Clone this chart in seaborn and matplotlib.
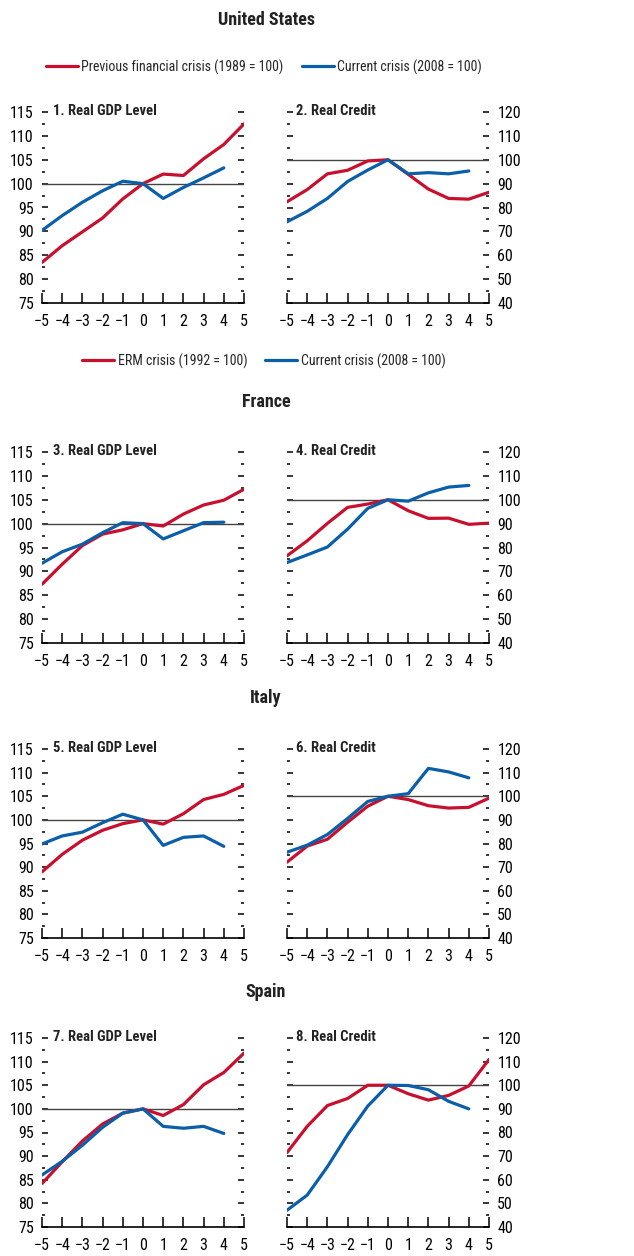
import numpy as np
import pandas as pd
import matplotlib
matplotlib.use("Agg")
import matplotlib.pyplot as plt
from matplotlib.ticker import MultipleLocator
from matplotlib.lines import Line2D
from matplotlib import font_manager
import seaborn as sns

# ---- data ----
years = list(range(-5, 6))
years_cur = list(range(-5, 5))

us_gdp_prev = [83.5, 87.0, 89.9, 92.8, 96.8, 100.0, 102.0, 101.7, 105.2, 108.2, 112.5]
us_gdp_cur = [90.2, 93.3, 96.1, 98.5, 100.5, 100.0, 96.9, 99.2, 101.2, 103.3]
us_cred_prev = [82.4, 87.5, 94.1, 95.6, 99.5, 100.0, 93.9, 87.7, 83.8, 83.5, 86.4]
us_cred_cur = [74.0, 78.4, 83.8, 90.9, 95.7, 100.0, 94.1, 94.6, 94.1, 95.3]

fr_gdp_erm = [87.3, 91.5, 95.4, 97.8, 98.7, 100.0, 99.5, 102.0, 103.9, 104.9, 107.2]
fr_gdp_cur = [91.7, 94.1, 95.7, 98.1, 100.2, 100.0, 96.8, 98.5, 100.2, 100.3]
fr_cred_erm = [76.5, 82.8, 90.1, 96.8, 98.2, 100.0, 95.4, 92.2, 92.3, 89.7, 90.2]
fr_cred_cur = [73.7, 76.9, 80.2, 87.7, 96.4, 100.0, 99.4, 102.9, 105.3, 106.0]

it_gdp_erm = [89.0, 92.7, 95.7, 97.8, 99.2, 100.0, 99.1, 101.3, 104.3, 105.4, 107.3]
it_gdp_cur = [94.9, 96.6, 97.4, 99.4, 101.2, 100.0, 94.6, 96.3, 96.6, 94.4]
it_cred_erm = [72.1, 78.9, 81.8, 89.0, 95.8, 100.0, 98.6, 96.0, 95.0, 95.3, 99.2]
it_cred_cur = [76.3, 79.3, 83.8, 90.6, 97.8, 100.0, 101.1, 111.8, 110.3, 107.8]

es_gdp_erm = [84.2, 88.8, 93.2, 96.8, 99.1, 100.0, 98.6, 100.9, 105.1, 107.7, 111.8]
es_gdp_cur = [86.0, 88.9, 92.3, 96.1, 99.1, 100.0, 96.3, 95.9, 96.3, 94.8]
es_cred_erm = [71.5, 82.6, 91.4, 94.4, 100.0, 100.0, 96.4, 93.7, 95.7, 99.7, 110.9]
es_cred_cur = [47.1, 53.5, 65.5, 79.1, 91.2, 100.0, 99.9, 98.1, 93.2, 90.0]

countries = ["United States", "France", "Italy", "Spain"]
panel_titles = ["1. Real GDP Level", "2. Real Credit", "3. Real GDP Level", "4. Real Credit",
                "5. Real GDP Level", "6. Real Credit", "7. Real GDP Level", "8. Real Credit"]
legend_us = ["Previous financial crisis (1989 = 100)", "Current crisis (2008 = 100)"]
legend_erm = ["ERM crisis (1992 = 100)", "Current crisis (2008 = 100)"]

RED = "#C8102E"
BLUE = "#0A5FA8"

sns.set_theme(style="white")
# pick the narrowest installed family
installed = {f.name for f in font_manager.fontManager.ttflist}
narrow = [f for f in ["Roboto Condensed", "DejaVu Sans Condensed", "Liberation Sans Narrow",
                      "Roboto", "DejaVu Sans"] if f in installed]
plt.rcParams['font.family'] = narrow
plt.rcParams['axes.unicode_minus'] = True

fig = plt.figure(figsize=(6.34, 12.56), dpi=100)
W, H = 634.0, 1256.0

def frame(prev, cur):
    a = pd.DataFrame({"year": years, "value": prev, "series": "prev"})
    b = pd.DataFrame({"year": years_cur, "value": cur, "series": "cur"})
    return pd.concat([a, b], ignore_index=True)

rows = [
    (us_gdp_prev, us_gdp_cur, us_cred_prev, us_cred_cur, 112, 303),
    (fr_gdp_erm, fr_gdp_cur, fr_cred_erm, fr_cred_cur, 452, 643),
    (it_gdp_erm, it_gdp_cur, it_cred_erm, it_cred_cur, 749, 938),
    (es_gdp_erm, es_gdp_cur, es_cred_erm, es_cred_cur, 1038, 1227),
]
title_y = [20, 402, 698, 992]

for i, (g1, g2, c1, c2, top, bot) in enumerate(rows):
    for j, (p, c) in enumerate([(g1, g2), (c1, c2)]):
        left = 42 if j == 0 else 287
        ax = fig.add_axes([left / W, 1 - bot / H, 202 / W, (bot - top) / H])
        df = frame(p, c)
        sns.lineplot(data=df, x="year", y="value", hue="series",
                     palette={"prev": RED, "cur": BLUE}, hue_order=["prev", "cur"],
                     linewidth=2.3, legend=False, ax=ax, zorder=3)
        ax.axhline(100, color="#444444", lw=1.0, zorder=2)
        ax.set_xlim(-5, 5)
        if j == 0:
            ax.set_ylim(75, 115)
            ax.yaxis.set_major_locator(MultipleLocator(5))
            ax.yaxis.set_minor_locator(MultipleLocator(2.5))
        else:
            ax.set_ylim(40, 120)
            ax.yaxis.set_major_locator(MultipleLocator(10))
            ax.yaxis.set_minor_locator(MultipleLocator(5))
        ax.xaxis.set_major_locator(MultipleLocator(1))
        ax.set_xlabel("")
        ax.set_ylabel("")
        for s in ["top", "left", "right"]:
            ax.spines[s].set_visible(False)
        ax.spines["bottom"].set_color("black")
        ax.spines["bottom"].set_linewidth(1.2)
        ax.tick_params(axis="y", which="major", direction="in", length=4.5, width=1.1,
                       left=True, right=True, labelleft=(j == 0), labelright=(j == 1),
                       labelsize=11.5, pad=6, colors="black")
        ax.tick_params(axis="y", which="minor", direction="in", length=2, width=1.1,
                       left=True, right=True, colors="black")
        ax.tick_params(axis="x", which="major", direction="in", length=7, width=1.1,
                       bottom=True, top=False, labelsize=11.5, pad=8, colors="black")
        ax.set_xticks(years)
        ax.text(0.055 if j == 0 else 0.045, 0.985, panel_titles[2 * i + j],
                transform=ax.transAxes, ha="left", va="baseline",
                fontsize=10.5, fontweight="bold", color="#222222")
        ax.set_facecolor("none")

    fig.text(266 / W, 1 - title_y[i] / H, countries[i], ha="center", va="center",
             fontsize=13, fontweight="bold", color="#222222")

def add_legend(labels, ypix):
    handles = [Line2D([], [], color=RED, lw=2.3), Line2D([], [], color=BLUE, lw=2.3)]
    fig.legend(handles, labels, loc="center", bbox_to_anchor=(264 / W, 1 - ypix / H),
               ncol=2, frameon=False, fontsize=10, handlelength=2.3,
               handletextpad=0.25, columnspacing=1.3, borderpad=0)

add_legend(legend_us, 67)
add_legend(legend_erm, 361)

fig.savefig("out.png", dpi=100)
